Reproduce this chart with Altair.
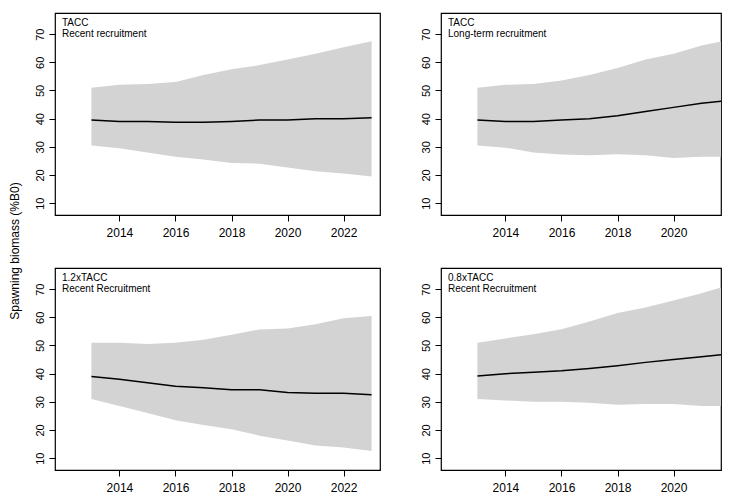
import altair as alt
import pandas as pd

years = list(range(2013, 2024))

labels = [["TACC", "Recent recruitment"],
          ["TACC", "Long-term recruitment"],
          ["1.2xTACC", "Recent Recruitment"],
          ["0.8xTACC", "Recent Recruitment"]]

median = [
    [39.5, 39.0, 39.0, 38.7, 38.7, 39.0, 39.5, 39.5, 40.0, 40.0, 40.3],
    [39.5, 39.0, 39.0, 39.5, 40.0, 41.0, 42.5, 44.0, 45.5, 46.5, 47.3],
    [39.0, 38.0, 36.8, 35.5, 35.0, 34.3, 34.3, 33.3, 33.0, 33.0, 32.5],
    [39.2, 40.0, 40.5, 41.0, 41.8, 42.8, 44.0, 45.0, 46.0, 47.0, 48.0],
]
upper = [
    [51.0, 52.0, 52.3, 53.0, 55.5, 57.5, 59.0, 61.0, 63.0, 65.3, 67.5],
    [51.0, 52.0, 52.3, 53.5, 55.5, 58.0, 61.0, 63.0, 66.0, 68.0, 69.0],
    [51.0, 51.0, 50.5, 51.0, 52.0, 53.8, 55.7, 56.0, 57.5, 59.7, 60.5],
    [51.0, 52.5, 54.0, 55.8, 58.5, 61.5, 63.5, 66.0, 68.5, 71.5, 73.5],
]
lower = [
    [30.5, 29.5, 28.0, 26.5, 25.5, 24.3, 24.0, 22.7, 21.3, 20.5, 19.5],
    [30.5, 29.7, 28.0, 27.3, 27.0, 27.4, 27.0, 26.0, 26.5, 26.5, 26.5],
    [31.0, 28.5, 26.0, 23.5, 21.8, 20.3, 18.0, 16.3, 14.5, 13.8, 12.5],
    [31.0, 30.5, 30.0, 30.0, 29.7, 29.0, 29.2, 29.2, 28.5, 28.5, 28.5],
]

FONT = "Liberation Sans"


def panel(i, w=325):
    # right-hand panels are cut off by the page edge in the original
    xmax = 2011.7 + 11.6 * w / 325
    df = pd.DataFrame({"year": years, "med": median[i], "lo": lower[i], "hi": upper[i]})
    xs = alt.Scale(domain=[2011.7, xmax], nice=False, zero=False)
    ys = alt.Scale(domain=[5.8, 77.5], nice=False, zero=False)
    xax = alt.Axis(values=[2014, 2016, 2018, 2020, 2022], format="d", title=None, grid=False,
                   domain=False, tickSize=6, tickColor="black", labelPadding=6,
                   labelFontSize=12, labelColor="black", labelFont=FONT, labelOverlap=False)
    yax = alt.Axis(values=[10, 20, 30, 40, 50, 60, 70], title=None, grid=False, domain=False,
                   tickSize=6, tickColor="black", labelAngle=-90, labelAlign="center",
                   labelBaseline="bottom", labelPadding=4, labelFontSize=11,
                   labelColor="black", labelFont=FONT, labelOverlap=False, labelBound=False)
    base = alt.Chart(df)
    band = base.mark_area(color="#d3d3d3", opacity=1, clip=True).encode(
        x=alt.X("year:Q", scale=xs, axis=xax), y=alt.Y("lo:Q", scale=ys, axis=yax), y2="hi:Q")
    line = base.mark_line(color="black", strokeWidth=1.5, clip=True).encode(
        x=alt.X("year:Q", scale=xs, axis=xax), y=alt.Y("med:Q", scale=ys, axis=yax))
    t1 = alt.Chart(pd.DataFrame({"t": [labels[i][0]]})).mark_text(
        align="left", baseline="top", fontSize=10, font=FONT, color="black").encode(
        text="t:N", x=alt.value(7), y=alt.value(5))
    t2 = alt.Chart(pd.DataFrame({"t": [labels[i][1]]})).mark_text(
        align="left", baseline="top", fontSize=10, font=FONT, color="black").encode(
        text="t:N", x=alt.value(7), y=alt.value(16))
    return (band + line + t1 + t2).properties(width=w, height=202)


ytitle = alt.Chart(pd.DataFrame({"t": ["Spawning biomass (%B0)"]})).mark_text(
    angle=270, fontSize=12, font=FONT, color="black").encode(
    text="t:N", x=alt.value(3), y=alt.value(238)).properties(
    width=16, height=460, view=alt.ViewConfig(stroke="transparent"))

grid = alt.vconcat(
    alt.hconcat(panel(0), panel(1, 280), spacing=38),
    alt.hconcat(panel(2), panel(3, 280), spacing=38),
    spacing=28,
)

chart = alt.hconcat(ytitle, grid, spacing=4).properties(
    padding={"left": 0, "top": 4, "right": 0, "bottom": 0}
).configure_view(stroke="black", strokeWidth=1.2).configure_axis(labelOverlap=False)

chart.save("out.html", embed_options={"renderer": "svg", "actions": False})
